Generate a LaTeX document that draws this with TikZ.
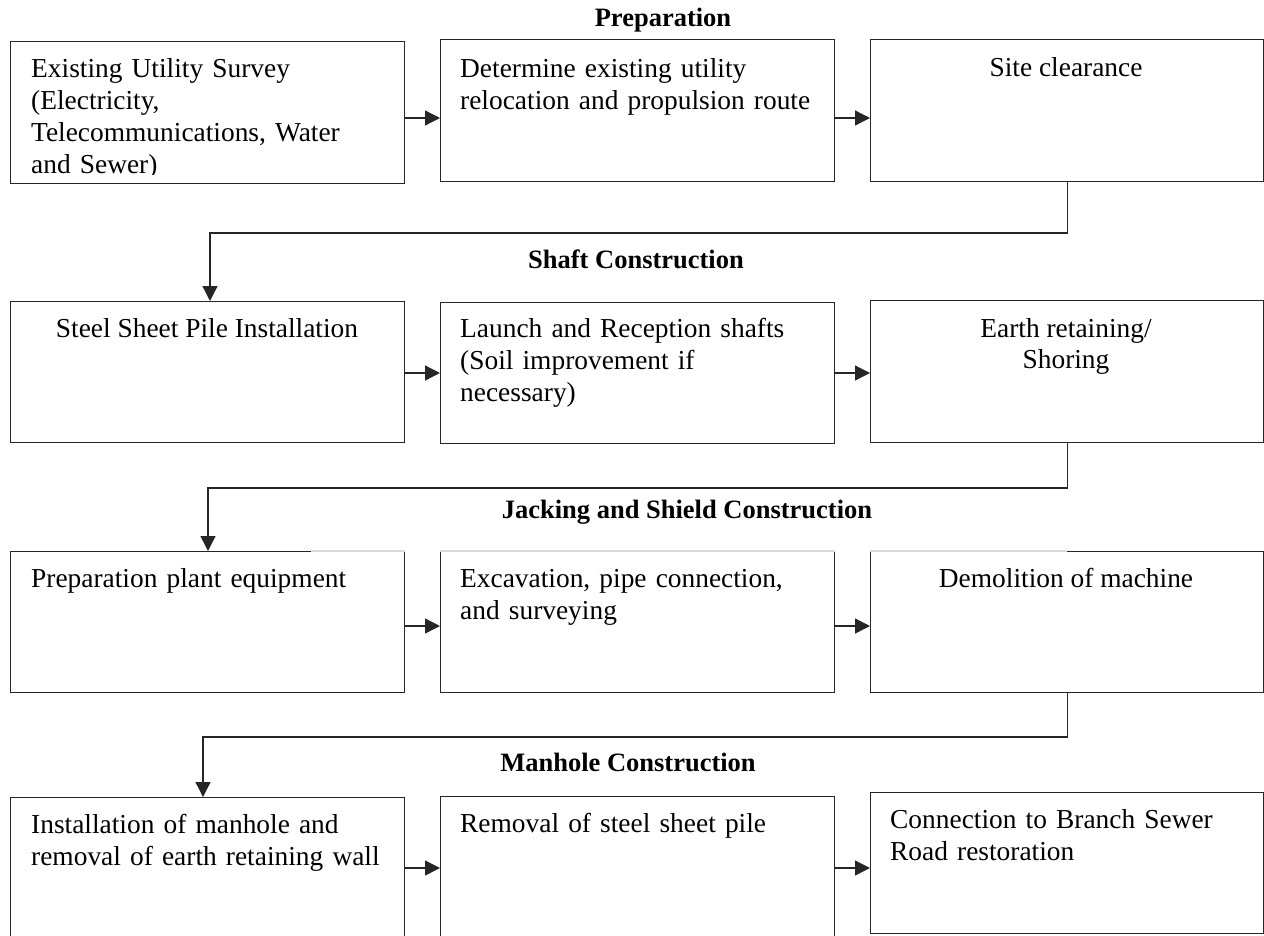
\documentclass[tikz,border=0pt]{standalone}
\usepackage{fontspec}
\setmainfont{Liberation Serif}
\usetikzlibrary{arrows.meta}
\begin{document}
\begin{tikzpicture}[x=1pt,y=-1pt,
  box/.style={draw=black!85, line width=1.3pt, anchor=north west, inner sep=0pt,
              minimum width=394pt, minimum height=142pt},
  txt/.style={inner sep=0pt, anchor=base west, align=left, text width=362pt,
              font=\fontsize{27.4}{32}\selectfont},
  ctxt/.style={inner sep=0pt, anchor=base, align=center,
               font=\fontsize{27.4}{31}\selectfont},
  stage/.style={inner sep=0pt, anchor=base, font=\bfseries\fontsize{26.5}{30}\selectfont},
  link/.style={draw=black!85, line width=1.3pt},
  arr/.style={link, -{Triangle[length=15pt,width=15pt]}},
  faded/.style={draw=black!15, line width=1.4pt}]
\useasboundingbox (0,0) rectangle (1264,935);

% stage headings
\node[stage] (t1) at (663,26) {Preparation};
\node[stage] (t2) at (636,268) {Shaft Construction};
\node[stage] (t3) at (687,518) {Jacking and Shield Construction};
\node[stage] (t4) at (628,771) {Manhole Construction};

% row 1
\node[box] (r1c1) at (10,41) {};
\node[box] (r1c2) at (440,39) {};
\node[box, minimum width=393pt] (r1c3) at (870,39) {};
\begin{scope}
  \clip (10,41) rectangle (404,174);
  \node[txt] (x11) at (31,77) {Existing Utility Survey\\(Electricity,\\Telecommunications, Water\\and Sewer)};
\end{scope}
\node[txt] (x12) at (460,77) {Determine existing utility\\relocation and propulsion route};
\node[ctxt] (x13) at (1066,76) {Site clearance};

% row 2
\node[box, minimum height=141pt] (r2c1) at (10,301) {};
\node[box, minimum height=141pt] (r2c2) at (440,302) {};
\node[box, minimum width=393pt] (r2c3) at (870,300) {};
\node[ctxt] (x21) at (207,337) {Steel Sheet Pile Installation};
\node[txt] (x22) at (460,337) {Launch and Reception shafts\\(Soil improvement if\\necessary)};
% base of a centred two-line node sits on its last line
\node[ctxt] (x23) at (1066,368) {Earth retaining/\\Shoring};

% row 3
\node[box, minimum height=141pt] (r3c1) at (10,551) {};
\node[box, minimum height=141pt] (r3c2) at (440,551) {};
\node[box, minimum width=393pt, minimum height=141pt] (r3c3) at (870,551) {};
\coordinate (f1) at (311,551);
\draw[faded] (f1) -- (r3c1.north east);
\draw[faded] (r3c2.north west) -- (r3c2.north east);
\draw[faded] (r3c3.north west) -- (r3c3.north);
\node[txt] (x31) at (31,587) {Preparation plant equipment};
\node[txt] (x32) at (460,587) {\makebox[353pt][s]{Excavation, pipe connection,}\\and surveying};
\node[ctxt] (x33) at (1066,587) {Demolition of machine};

% row 4
\node[box, minimum height=150pt] (r4c1) at (10,797) {};
\node[box, minimum height=150pt] (r4c2) at (440,796) {};
\node[box, minimum width=393pt, minimum height=141pt] (r4c3) at (870,792) {};
\node[txt] (x41) at (31,833) {\makebox[352pt][s]{Installation of manhole and}\\removal of earth retaining wall};
\node[txt] (x42) at (460,832) {Removal of steel sheet pile};
\node[txt] (x43) at (890,828) {Connection to Branch Sewer\\Road restoration};

% arrows within each row
\coordinate (h1) at (0,118);
\coordinate (h2) at (0,373);
\coordinate (h3) at (0,626);
\coordinate (h4) at (0,868);
\draw[arr] (r1c1.east |- h1) -- (r1c2.west |- h1);
\draw[arr] (r1c2.east |- h1) -- (r1c3.west |- h1);
\draw[arr] (r2c1.east |- h2) -- (r2c2.west |- h2);
\draw[arr] (r2c2.east |- h2) -- (r2c3.west |- h2);
\draw[arr] (r3c1.east |- h3) -- (r3c2.west |- h3);
\draw[arr] (r3c2.east |- h3) -- (r3c3.west |- h3);
\draw[arr] (r4c1.east |- h4) -- (r4c2.west |- h4);
\draw[arr] (r4c2.east |- h4) -- (r4c3.west |- h4);

% returns from the end of one row to the start of the next
\coordinate (k1) at (210,233);
\coordinate (k2) at (208,488);
\coordinate (k3) at (203,737);
\draw[arr] (r1c3.south) |- (k1) -- (k1 |- r2c1.north);
\draw[arr] (r2c3.south) |- (k2) -- (k2 |- r3c1.north);
\draw[arr] (r3c3.south) |- (k3) -- (k3 |- r4c1.north);
\end{tikzpicture}
\end{document}
